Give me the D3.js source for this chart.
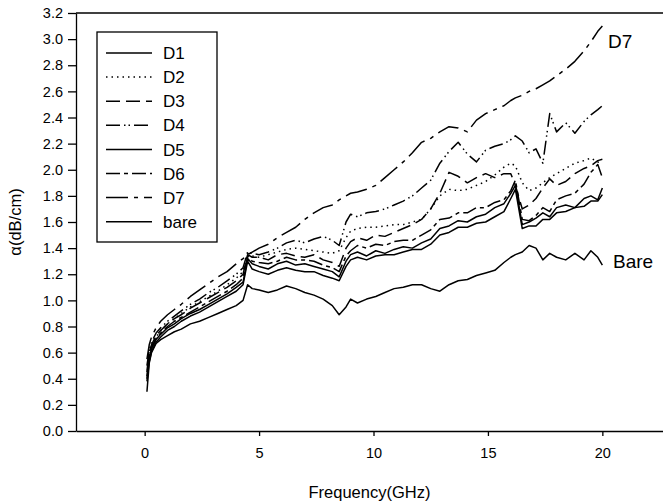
<!DOCTYPE html>
<html lang="en">
<head>
<meta charset="UTF-8">
<title>Attenuation vs frequency</title>
<style>
    body { margin: 0; background: #fff; }
    text { font-family: "Liberation Sans", Arial, sans-serif; fill: #000; }
    .axis path, .axis line { stroke: #000; stroke-width: 1.3; }
    .axis text { font-size: 14.5px; }
    .curve { fill: none; stroke: #000; stroke-width: 1.5; stroke-linejoin: round; }
</style>
</head>
<body>
<script src="https://d3js.org/d3.v7.min.js"></script>
<script>
// frequency grid (GHz) shared by all curves
const freq = [0.1,0.2,0.3,0.5,0.7,1.0,1.3,1.6,2.0,2.4,2.8,3.2,3.6,4.0,4.3,4.5,4.7,5.0,5.4,5.8,
    6.2,6.6,7.0,7.4,7.8,8.2,8.5,8.8,9.0,9.3,9.7,10.1,10.5,10.9,11.3,11.7,12.1,12.5,12.9,13.3,
    13.7,14.1,14.5,14.9,15.3,15.7,16.0,16.2,16.5,16.8,17.1,17.4,17.7,18.0,18.4,18.8,19.2,19.5,19.8,20.0];

// alpha (dB/cm)
const d1 = [0.40,0.56,0.63,0.70,0.74,0.79,0.82,0.86,0.90,0.93,0.97,1.01,1.05,1.10,1.14,1.32,1.28,1.26,1.24,1.28,
    1.30,1.27,1.28,1.26,1.24,1.22,1.18,1.30,1.35,1.37,1.34,1.38,1.36,1.39,1.41,1.40,1.44,1.47,1.55,1.57,
    1.61,1.60,1.64,1.66,1.71,1.74,1.82,1.88,1.58,1.60,1.63,1.67,1.64,1.71,1.73,1.71,1.78,1.80,1.77,1.86];
const d2 = [0.45,0.58,0.65,0.72,0.77,0.82,0.86,0.90,0.95,0.99,1.03,1.07,1.12,1.17,1.22,1.36,1.34,1.33,1.35,1.37,
    1.39,1.40,1.39,1.38,1.37,1.36,1.38,1.48,1.53,1.55,1.56,1.56,1.57,1.58,1.58,1.60,1.62,1.70,1.80,1.85,
    1.84,1.85,1.88,1.91,1.96,2.02,2.05,2.03,1.90,1.84,1.86,1.90,1.94,1.97,2.01,2.05,2.07,2.09,2.06,2.05];
const d3v = [0.46,0.60,0.66,0.73,0.77,0.82,0.86,0.89,0.94,0.98,1.02,1.06,1.10,1.15,1.20,1.35,1.33,1.33,1.31,1.35,
    1.36,1.34,1.33,1.35,1.31,1.29,1.26,1.40,1.45,1.48,1.46,1.50,1.49,1.52,1.55,1.58,1.62,1.70,1.82,1.98,
    1.95,1.90,1.94,1.97,1.94,1.97,1.97,1.88,1.70,1.73,1.78,1.86,1.93,1.88,1.91,1.97,2.01,2.03,2.07,2.08];
const d4 = [0.50,0.62,0.68,0.75,0.79,0.84,0.88,0.92,0.97,1.01,1.06,1.10,1.15,1.20,1.25,1.37,1.36,1.35,1.37,1.40,
    1.44,1.46,1.44,1.47,1.49,1.46,1.42,1.60,1.66,1.64,1.67,1.68,1.70,1.73,1.76,1.80,1.86,1.92,2.05,2.14,
    2.21,2.12,2.06,2.15,2.18,2.20,2.23,2.26,2.22,2.13,2.16,2.05,2.43,2.29,2.36,2.28,2.37,2.42,2.46,2.49];
const d5 = [0.38,0.53,0.61,0.68,0.72,0.77,0.80,0.84,0.88,0.91,0.95,0.99,1.03,1.07,1.12,1.30,1.24,1.22,1.20,1.23,
    1.25,1.23,1.22,1.22,1.19,1.17,1.15,1.26,1.31,1.33,1.31,1.34,1.35,1.35,1.37,1.39,1.39,1.43,1.50,1.52,
    1.56,1.56,1.59,1.60,1.64,1.68,1.78,1.85,1.55,1.57,1.57,1.62,1.62,1.67,1.68,1.71,1.72,1.76,1.76,1.81];
const d6 = [0.42,0.57,0.64,0.71,0.75,0.80,0.84,0.87,0.91,0.95,0.99,1.03,1.07,1.12,1.17,1.34,1.30,1.29,1.28,1.30,
    1.33,1.31,1.31,1.30,1.27,1.25,1.22,1.34,1.38,1.42,1.40,1.43,1.42,1.45,1.46,1.46,1.50,1.54,1.62,1.63,
    1.67,1.67,1.71,1.71,1.75,1.77,1.84,1.92,1.62,1.61,1.65,1.71,1.68,1.77,1.80,1.82,1.89,1.98,2.04,1.94];
const d7 = [0.55,0.66,0.72,0.79,0.84,0.89,0.93,0.97,1.03,1.08,1.13,1.18,1.22,1.28,1.32,1.35,1.37,1.40,1.43,1.48,
    1.52,1.56,1.62,1.67,1.71,1.73,1.77,1.80,1.82,1.83,1.85,1.88,1.94,2.00,2.06,2.13,2.21,2.24,2.29,2.33,
    2.32,2.29,2.38,2.43,2.46,2.49,2.53,2.55,2.57,2.60,2.62,2.65,2.68,2.72,2.77,2.83,2.91,2.98,3.06,3.10];
const bare = [0.30,0.52,0.60,0.67,0.70,0.73,0.76,0.78,0.82,0.84,0.87,0.90,0.93,0.96,1.00,1.12,1.09,1.08,1.06,1.08,
    1.11,1.09,1.06,1.04,1.01,0.96,0.89,0.95,1.01,0.98,1.01,1.03,1.06,1.09,1.10,1.12,1.12,1.09,1.07,1.12,
    1.15,1.16,1.19,1.21,1.23,1.29,1.33,1.35,1.37,1.42,1.40,1.31,1.36,1.33,1.31,1.36,1.31,1.38,1.33,1.27];

const seriesNames = ["D1", "D2", "D3", "D4", "D5", "D6", "D7", "bare"];
const seriesValues = [d1, d2, d3v, d4, d5, d6, d7, bare];
const dashes = ["none", "1.5,4", "14,6", "14,4,1.5,3,1.5,4", "none", "14,4,4,4", "22,6,4,6", "none"];

const xTicks = [0, 5, 10, 15, 20];
const yTicks = [0, 0.2, 0.4, 0.6, 0.8, 1.0, 1.2, 1.4, 1.6, 1.8, 2.0, 2.2, 2.4, 2.6, 2.8, 3.0, 3.2];

const width = 663, height = 504;
const plotLeft = 76, plotRight = 663, plotTop = 13, plotBottom = 431;

const svg = d3.select("body").append("svg")
    .attr("width", width)
    .attr("height", height);

const x = d3.scaleLinear().domain([-3, 22.65]).range([plotLeft, plotRight]);
const y = d3.scaleLinear().domain([0, 3.2]).range([plotBottom, plotTop]);

// frame: top border line only, no right border
svg.append("line")
    .attr("x1", plotLeft).attr("x2", plotRight)
    .attr("y1", plotTop).attr("y2", plotTop)
    .attr("stroke", "#000").attr("stroke-width", 1.3);

svg.append("g")
    .attr("class", "axis")
    .attr("transform", `translate(0,${plotBottom})`)
    .call(d3.axisBottom(x).tickValues(xTicks).tickSize(5).tickSizeOuter(0).tickPadding(12));

svg.append("g")
    .attr("class", "axis")
    .attr("transform", `translate(${plotLeft},0)`)
    .call(d3.axisLeft(y).tickValues(yTicks).tickFormat(d3.format(".1f")).tickSize(8).tickSizeOuter(0).tickPadding(5));

const line = d3.line()
    .x((d, i) => x(freq[i]))
    .y(d => y(d));

svg.selectAll(".curve")
    .data(seriesValues)
    .enter()
    .append("path")
    .attr("class", "curve")
    .attr("stroke-dasharray", (d, i) => dashes[i])
    .attr("d", line);

// end labels
svg.append("text").attr("x", 608).attr("y", 48).attr("font-size", 19).text("D7");
svg.append("text").attr("x", 613).attr("y", 268).attr("font-size", 19).text("Bare");

// axis titles
svg.append("text")
    .attr("x", (plotLeft + plotRight) / 2)
    .attr("y", 498)
    .attr("text-anchor", "middle")
    .attr("font-size", 16.5)
    .text("Frequency(GHz)");

svg.append("text")
    .attr("transform", `translate(21,${(plotTop + plotBottom) / 2}) rotate(-90)`)
    .attr("text-anchor", "middle")
    .attr("font-size", 16.5)
    .text("α(dB/cm)");

// legend
const legend = svg.append("g");
legend.append("rect")
    .attr("x", 97).attr("y", 32)
    .attr("width", 120).attr("height", 210)
    .attr("fill", "#fff").attr("stroke", "#000").attr("stroke-width", 1.3);

const rows = legend.selectAll(".row")
    .data(seriesNames)
    .enter()
    .append("g")
    .attr("transform", (d, i) => `translate(0,${53 + i * 24.1})`);

rows.append("line")
    .attr("x1", 106).attr("x2", 152)
    .attr("stroke", "#000").attr("stroke-width", 1.5)
    .attr("stroke-dasharray", (d, i) => dashes[i]);

rows.append("text")
    .attr("x", 163)
    .attr("dy", "0.36em")
    .attr("font-size", 17)
    .text(d => d);
</script>
</body>
</html>
